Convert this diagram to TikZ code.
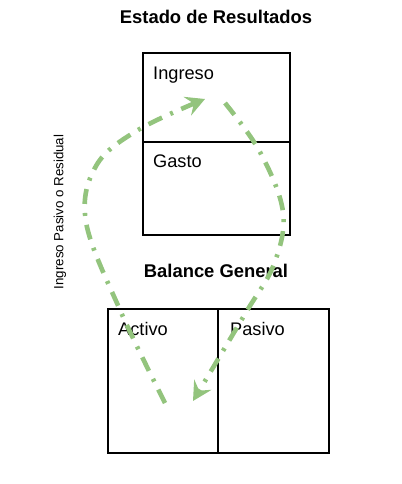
\documentclass[tikz,border=0pt]{standalone}
\usepackage{fontspec}
\setmainfont{Liberation Sans}
\usetikzlibrary{arrows.meta}
\definecolor{flowgreen}{HTML}{93C47D}
\begin{document}
\begin{tikzpicture}[x=1bp,y=-1bp,
  box/.style={draw=black,line width=1.1bp,inner sep=0pt,outer sep=0pt,rectangle},
  lbl/.style={inner sep=0pt,anchor=base west,font=\fontsize{18.2bp}{21bp}\selectfont},
  ttl/.style={inner sep=0pt,anchor=base,font=\fontsize{18.4bp}{21bp}\selectfont\bfseries},
  flow/.style={draw=flowgreen,line width=4.6bp,dash pattern=on 15bp off 9bp on 3bp off 9bp,
    -{Stealth[length=19bp,width=20bp,inset=7bp]}}
]
\useasboundingbox[fill=white] (0,0) rectangle (401,484);
% boxes
\node[box,minimum width=147bp,minimum height=89bp] (ingbox) at (216.5,97.5) {};
\node[box,minimum width=147bp,minimum height=93bp] (gasbox) at (216.5,188.5) {};
\node[box,minimum width=110bp,minimum height=144bp] (actbox) at (163,381) {};
\node[box,minimum width=111bp,minimum height=144bp] (pasbox) at (273.5,381) {};
% titles
\node[ttl] (t1) at (216,24) {Estado de Resultados};
\node[ttl] (t2) at (216,277) {Balance General};
% labels
\node[lbl] (ling) at (153,80) {Ingreso};
\node[lbl] (lgas) at (153,168) {Gasto};
\node[lbl] (lact) at (118,335) {Activo};
\node[lbl] (lpas) at (230,335) {Pasivo};
\node[inner sep=0pt,rotate=90,font=\fontsize{13.3bp}{15bp}\selectfont] (side) at (60,212) {Ingreso Pasivo o Residual};
% flow arrows
\coordinate (a0) at (165,403);
\coordinate (a5) at (205,99);
\coordinate (b0) at (225,103);
\coordinate (b5) at (193,401);
\draw[flow] plot[smooth,tension=0.6] coordinates {(a0) (120,310) (86,222) (96,166) (138,130) (a5)};
\draw[flow] plot[smooth,tension=0.6] coordinates {(b0) (260,152) (283,212) (274,264) (245,314) (b5)};
\end{tikzpicture}
\end{document}
